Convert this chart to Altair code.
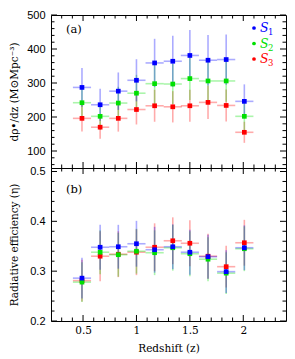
import altair as alt
import pandas as pd

# ---------------- data ----------------
z_mid = [0.49, 0.66, 0.83, 1.00, 1.17, 1.34, 1.50, 1.67, 1.84, 2.01]
z_half = [0.085, 0.085, 0.085, 0.085, 0.085, 0.085, 0.085, 0.085, 0.085, 0.085]

rho_s1 = [287, 236, 276, 308, 359, 364, 381, 367, 369, 246]
rho_s1_err = [57, 47, 55, 62, 71, 75, 75, 74, 74, 50]
rho_s2 = [242, 202, 241, 270, 298, 297, 313, 306, 306, 202]
rho_s2_err = [48, 40, 48, 54, 60, 59, 63, 61, 61, 40]
rho_s3 = [196, 170, 196, 222, 233, 230, 233, 243, 234, 155]
rho_s3_err = [39, 34, 39, 44, 47, 46, 47, 49, 47, 31]

eta_s1 = [0.286, 0.348, 0.349, 0.355, 0.343, 0.349, 0.338, 0.329, 0.299, 0.347]
eta_s1_err = [0.041, 0.045, 0.044, 0.046, 0.046, 0.045, 0.045, 0.044, 0.043, 0.045]
eta_s2 = [0.278, 0.338, 0.333, 0.340, 0.337, 0.347, 0.335, 0.324, 0.296, 0.345]
eta_s2_err = [0.040, 0.044, 0.044, 0.045, 0.045, 0.046, 0.045, 0.044, 0.042, 0.045]
eta_s3 = [0.281, 0.330, 0.334, 0.338, 0.348, 0.361, 0.356, 0.330, 0.309, 0.357]
eta_s3_err = [0.042, 0.050, 0.046, 0.046, 0.048, 0.047, 0.046, 0.045, 0.042, 0.046]

series_names = ["S1", "S2", "S3"]
series_colors = ["#0000ff", "#00e000", "#ff0000"]
legend_subs = ["1", "2", "3"]

x_major = [0.5, 1.0, 1.5, 2.0]
x_minor = [0.3, 0.4, 0.6, 0.7, 0.8, 0.9, 1.1, 1.2, 1.3, 1.4, 1.6, 1.7, 1.8, 1.9, 2.1, 2.2, 2.3]
rho_major = [100, 200, 300, 400, 500]
rho_minor = [60, 80, 120, 140, 160, 180, 220, 240, 260, 280, 320, 340, 360, 380, 420, 440, 460, 480]
eta_major = [0.2, 0.3, 0.4, 0.5]
eta_minor = [0.22, 0.24, 0.26, 0.28, 0.32, 0.34, 0.36, 0.38, 0.42, 0.44, 0.46, 0.48]

# ---------------- layout ----------------
W = 235
H_TOP = 153
H_BOT = 153
MAJ = 6
MIN = 3.5
SERIF = "DejaVu Serif"
SANS = "Liberation Sans"

xs = alt.Scale(domain=[0.2, 2.4], nice=False, zero=False)


def make_df(vals, errs):
    rows = []
    order = list(zip(series_names, vals, errs))[::-1]  # draw S3 first, S1 on top
    for name, v, e in order:
        for zi, hw, vi, ei in zip(z_mid, z_half, v, e):
            rows.append(dict(series=name, z=zi, zlo=zi - hw, zhi=zi + hw,
                             val=vi, lo=vi - ei, hi=vi + ei))
    return pd.DataFrame(rows)


def panel(df, ydom, ymaj, ymin, yaxis, xaxis, H, label, label_y, legend):
    ys = alt.Scale(domain=ydom, nice=False, zero=False)
    color = alt.Color("series:N",
                      scale=alt.Scale(domain=series_names, range=series_colors),
                      legend=None)
    base = alt.Chart(df)
    layers = []
    layers.append(base.mark_rule(strokeWidth=1.6, opacity=0.33).encode(
        x=alt.X("z:Q", scale=xs, axis=xaxis),
        y=alt.Y("lo:Q", scale=ys, axis=yaxis),
        y2="hi:Q", color=color))
    layers.append(base.mark_rule(strokeWidth=1.6, opacity=0.33).encode(
        x=alt.X("zlo:Q", scale=xs, axis=xaxis), x2="zhi:Q",
        y=alt.Y("val:Q", scale=ys, axis=yaxis), color=color))
    layers.append(base.mark_square(size=22, opacity=1).encode(
        x=alt.X("z:Q", scale=xs, axis=xaxis),
        y=alt.Y("val:Q", scale=ys, axis=yaxis), color=color))

    # inward ticks on all four sides
    for vals, ln in ((x_major, MAJ), (x_minor, MIN)):
        d = alt.Chart(pd.DataFrame({"v": vals}))
        layers.append(d.mark_rule(color="black", strokeWidth=1).encode(
            x=alt.X("v:Q", scale=xs, axis=xaxis), y=alt.value(H), y2=alt.value(H - ln)))
        layers.append(d.mark_rule(color="black", strokeWidth=1).encode(
            x=alt.X("v:Q", scale=xs, axis=xaxis), y=alt.value(0), y2=alt.value(ln)))
    for vals, ln in ((ymaj, MAJ), (ymin, MIN)):
        d = alt.Chart(pd.DataFrame({"v": vals}))
        layers.append(d.mark_rule(color="black", strokeWidth=1).encode(
            y=alt.Y("v:Q", scale=ys, axis=yaxis), x=alt.value(0), x2=alt.value(ln)))
        layers.append(d.mark_rule(color="black", strokeWidth=1).encode(
            y=alt.Y("v:Q", scale=ys, axis=yaxis), x=alt.value(W), x2=alt.value(W - ln)))

    # panel label
    layers.append(alt.Chart(pd.DataFrame({"t": [label]})).mark_text(
        font=SERIF, fontSize=11.5, align="left", baseline="middle", color="black").encode(
        text="t:N", x=alt.value(15), y=alt.value(label_y)))

    if legend:
        for i, (nm, col, sub) in enumerate(zip(series_names, series_colors, legend_subs)):
            yy = 13 + 15.5 * i
            one = alt.Chart(pd.DataFrame({"s": ["S"], "n": [sub]}))
            layers.append(one.mark_circle(size=14, opacity=1, color=col).encode(
                x=alt.value(W - 32), y=alt.value(yy)))
            layers.append(one.mark_text(font=SERIF, fontStyle="italic", fontSize=12.5,
                                        align="left", baseline="middle", color=col).encode(
                text="s:N", x=alt.value(W - 26), y=alt.value(yy)))
            layers.append(one.mark_text(font=SERIF, fontSize=8.5,
                                        align="left", baseline="middle", color=col).encode(
                text="n:N", x=alt.value(W - 18), y=alt.value(yy + 4)))

    return alt.layer(*layers).properties(width=W, height=H)


top_df = make_df([rho_s1, rho_s2, rho_s3], [rho_s1_err, rho_s2_err, rho_s3_err])
bot_df = make_df([eta_s1, eta_s2, eta_s3], [eta_s1_err, eta_s2_err, eta_s3_err])

y_axis_top = alt.Axis(values=rho_major, ticks=False, domain=False, grid=False,
                      labelPadding=6, labelFont=SANS, labelFontSize=11,
                      title="dρ•/dz  (M⊙Mpc⁻³)", titleFont=SERIF, titleFontSize=10.5,
                      titleFontWeight="normal", titleX=-32)
y_axis_bot = alt.Axis(values=eta_major, format=".1f", ticks=False, domain=False, grid=False,
                      labelPadding=6, labelFont=SANS, labelFontSize=11,
                      title="Radiative efficiency (η)", titleFont=SERIF, titleFontSize=10.5,
                      titleFontWeight="normal", titleX=-32)
x_axis_bot = alt.Axis(values=x_major, format="~g", ticks=False, domain=False, grid=False,
                      labelPadding=4, labelFont=SERIF, labelFontSize=10.5,
                      title="Redshift (z)", titleFont=SERIF, titleFontSize=10.5,
                      titleFontWeight="normal", titlePadding=8)

top = panel(top_df, [50, 500], rho_major, rho_minor, y_axis_top, None, H_TOP, "(a)", 15, True)
bottom = panel(bot_df, [0.2, 0.507], eta_major, eta_minor, y_axis_bot, x_axis_bot, H_BOT, "(b)", 22, False)

chart = alt.vconcat(top, bottom, spacing=0, bounds="flush").properties(
    padding={"left": 0, "right": 0, "top": 0, "bottom": 0}
).configure_view(stroke="black", strokeWidth=1).configure_axis(
    labelColor="black", titleColor="black"
)

chart.save("out.html", embed_options={"renderer": "svg", "actions": False})
